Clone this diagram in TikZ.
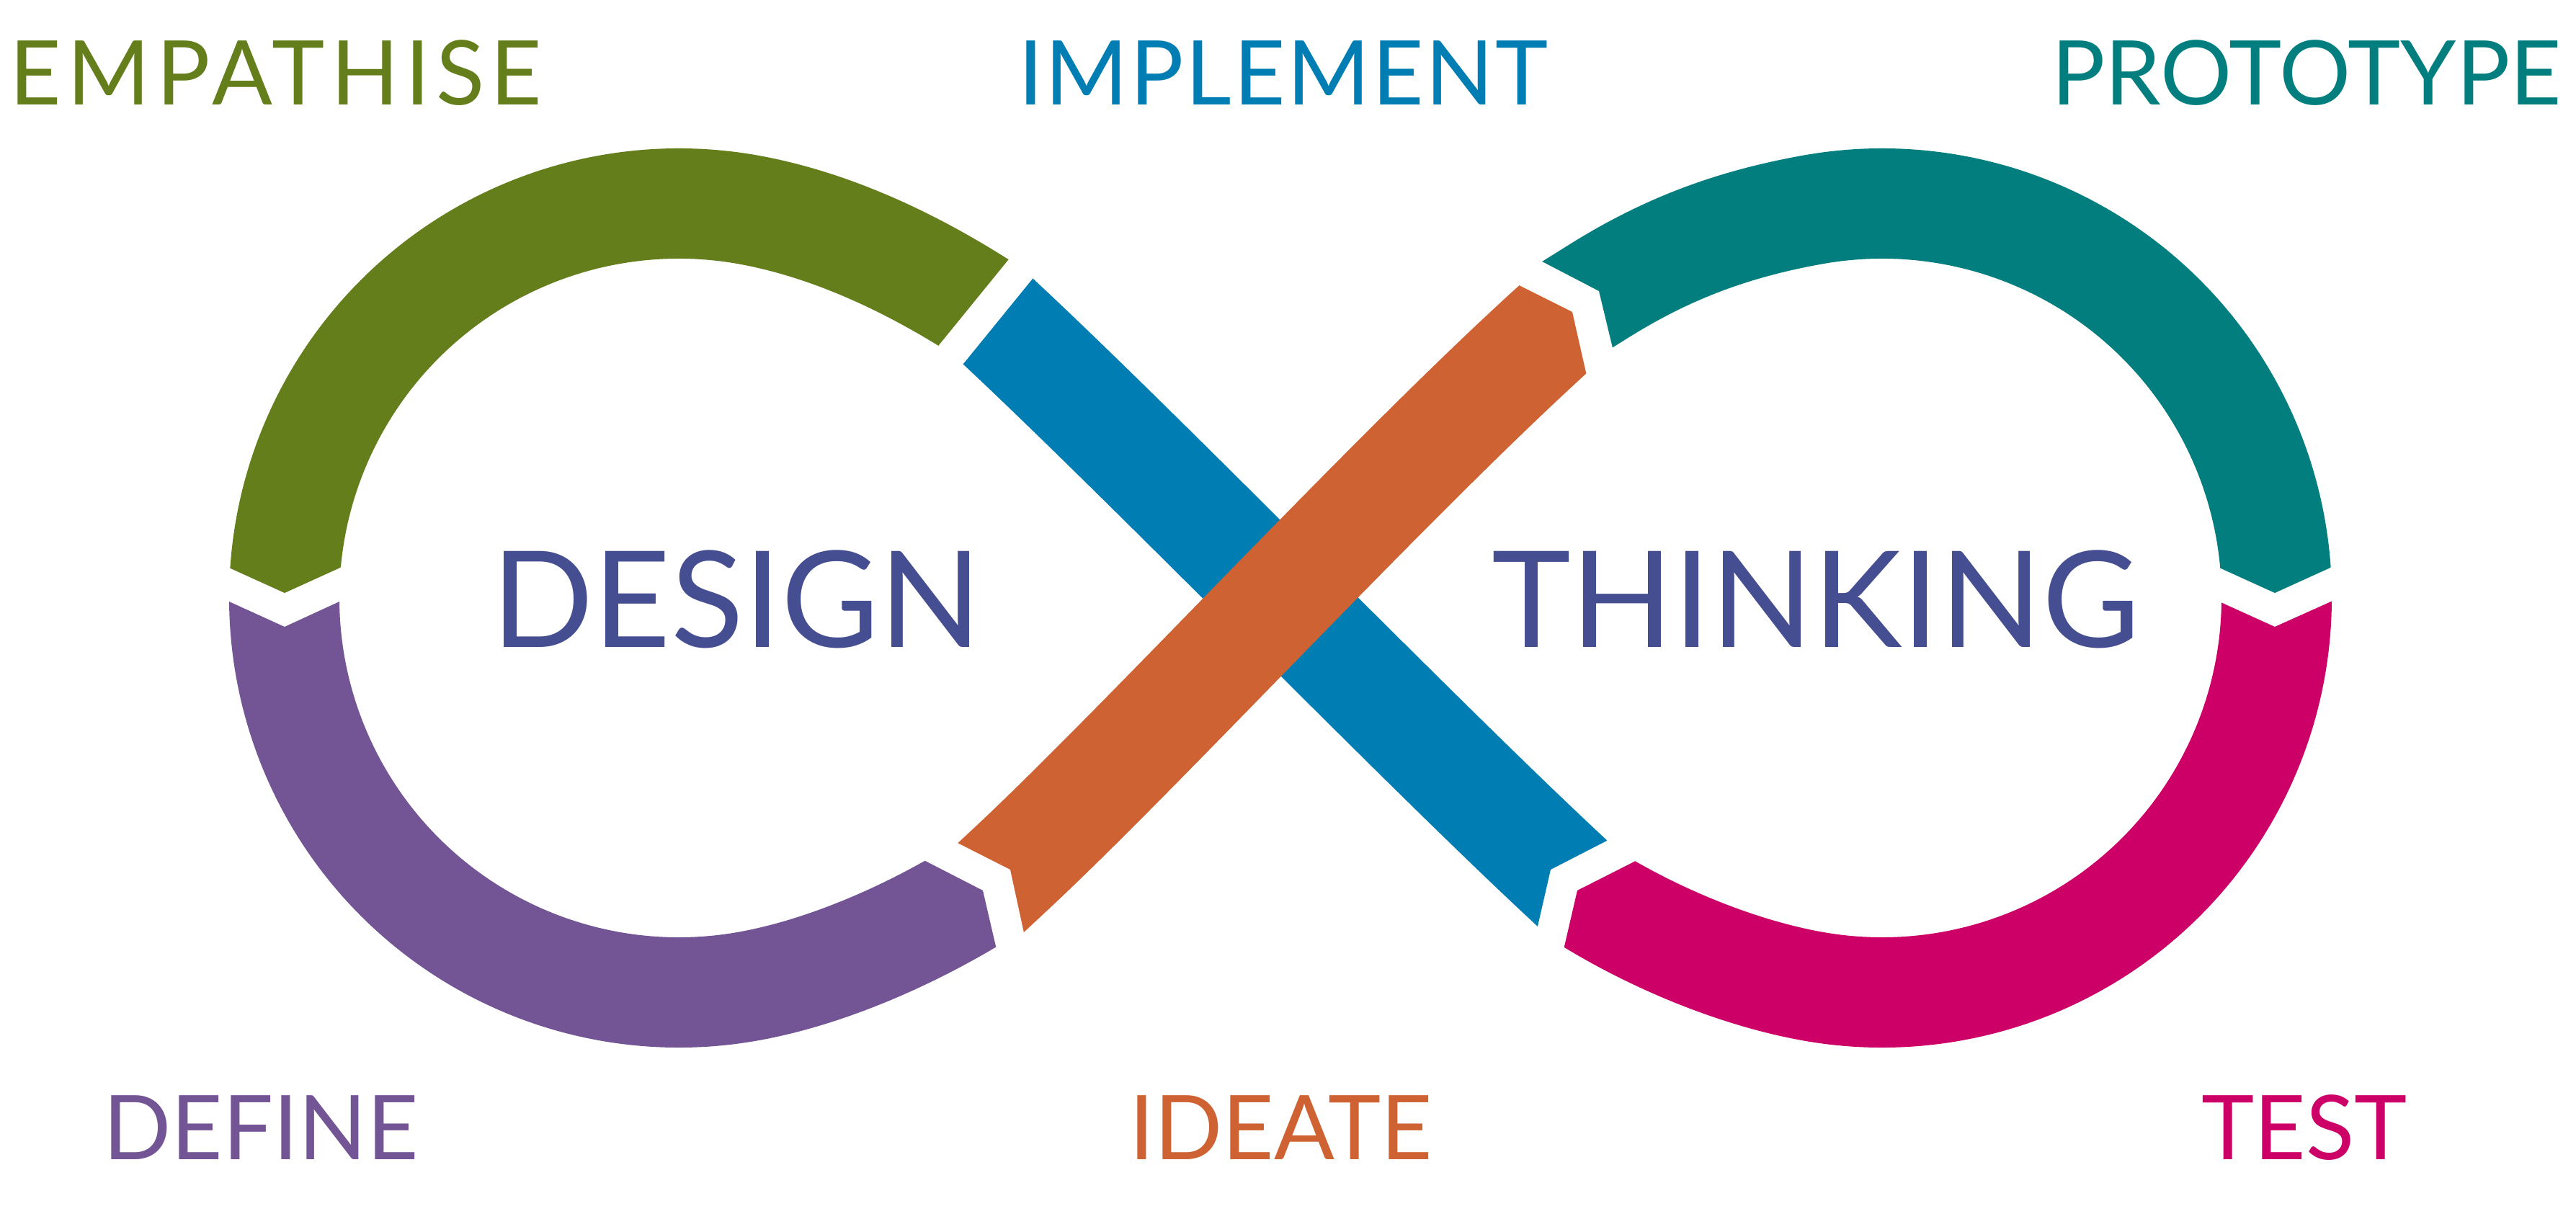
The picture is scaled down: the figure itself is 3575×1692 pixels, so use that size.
\documentclass[tikz,border=0pt]{standalone}
\usepackage{fontspec}
\setmainfont{Lato}
\usepackage{xcolor}
\definecolor{empathise}{RGB}{101,126,28}
\definecolor{define}{RGB}{115,85,150}
\definecolor{ideate}{RGB}{207,98,50}
\definecolor{prototype}{RGB}{2,126,126}
\definecolor{testphase}{RGB}{204,0,102}
\definecolor{implement}{RGB}{0,125,179}
\definecolor{titleblue}{RGB}{70,78,146}

\begin{document}
\begin{tikzpicture}[x=0.2pt,y=0.2pt,yscale=-1,xscale=1,
  band/.style={line width=30.6pt, line cap=butt},
  phase/.style={anchor=base, inner sep=0pt, font=\fontsize{24.8}{30}\selectfont},
  title/.style={anchor=base, inner sep=0pt, text=titleblue, font=\fontsize{37.2}{44}\selectfont}]
\useasboundingbox (0,0) rectangle (3575,1692);

%Band: Empathise (top of left loop)
\begin{scope}
\clip (0,0) -- (0,764) -- (265,764) -- (320,789) -- (395,823) -- (472,788) -- (527,763) -- (1271,518) -- (1303,479) -- (1399,361) -- (1431,322) -- (1431,0) -- cycle;
\draw [band, color=empathise] (397.5,887.2) arc [start angle=174, end angle=280, radius=547.5] .. controls (1148,310.6) and (1255,360) .. (1351,420) -- ++(32:70);
\end{scope}
%Band: Define (bottom of left loop)
\begin{scope}
\clip (0,1692) -- (0,810) -- (263,810) -- (318,835) -- (395,870) -- (471,835) -- (526,810) -- (1243,1174) -- (1288,1197) -- (1364,1236) -- (1383,1318) -- (1394,1367) -- (1394,1692) -- cycle;
\draw [band, color=define] (397.5,772.8) arc [start angle=186, end angle=80, radius=547.5] .. controls (1148,1349.6) and (1268,1296) .. (1364,1236) -- ++(-33:70);
\end{scope}
%Band: Prototype (top of right loop)
\begin{scope}
\clip (3575,0) -- (3575,764) -- (3289,763) -- (3234,788) -- (3157,823) -- (3080,788) -- (3025,763) -- (2251,536) -- (2239,487) -- (2219,404) -- (2146,366) -- (2101,343) -- (2101,0) -- cycle;
\draw [band, color=prototype] (2219,404) ++(148:70) -- (2219,404) .. controls (2315,344) and (2406,310.6) .. (2517,290.8) arc [start angle=260, end angle=366, radius=547.5];
\end{scope}
%Band: Test (bottom of right loop)
\begin{scope}
\clip (3575,1692) -- (3575,810) -- (3290,810) -- (3235,835) -- (3157,870) -- (3082,836) -- (3027,811) -- (2309,1175) -- (2264,1198) -- (2189,1236) -- (2170,1318) -- (2159,1367) -- (2159,1692) -- cycle;
\draw [band, color=testphase] (3156.5,772.8) arc [start angle=354, end angle=460, radius=547.5] .. controls (2406,1349.6) and (2284,1297.5) .. (2189,1236) -- ++(213:70);
\end{scope}
%Band: Implement (crossing, under)
\begin{scope}
\clip (1305,544) -- (1337,505) -- (1433,387) -- (1465,348) -- (2400,348) -- (2400,1146) -- (2271,1146) -- (2226,1169) -- (2152,1207) -- (2133,1290) -- (2122,1339) -- (1250,1339) -- cycle;
\draw [band, color=implement] (1385,446) ++(223:70) -- (1385,446) .. controls (1597,644) and (1957,1016) .. (2169,1214) -- ++(43:70);
\end{scope}
%Band: Ideate (crossing, over)
\begin{scope}
\clip (1282,1146) -- (1327,1169) -- (1402,1207) -- (1420,1290) -- (1431,1339) -- (2400,1339) -- (2400,566) -- (2212,566) -- (2201,517) -- (2182,433) -- (2108,396) -- (2063,374) -- (1250,374) -- (1250,1146) -- cycle;
\draw [band, color=ideate] (1402,1207) ++(137:70) -- (1402,1207) .. controls (1592,1030) and (1952,636.7) .. (2182,433) -- ++(-43:70);
\end{scope}

% Text Node
\node (design) [title] at (1022,898) {DESIGN};
% Text Node
\node (thinking) [title] at (2520,898) {THINKING};
% Text Node
\node (empathise) [phase, text=empathise] at (383,146) {\addfontfeatures{LetterSpace=6.7}EMPATHISE};
% Text Node
\node (implementlabel) [phase, text=implement] at (1781,146) {\addfontfeatures{LetterSpace=2.1}IMPLEMENT};
% Text Node
\node (prototypelabel) [phase, text=prototype] at (3201,146) {PROTOTYPE};
% Text Node
\node (definelabel) [phase, text=define] at (362,1609) {DEFINE};
% Text Node
\node (ideatelabel) [phase, text=ideate] at (1778,1609) {IDEATE};
% Text Node
\node (testlabel) [phase, text=testphase] at (3198,1609) {TEST};

\end{tikzpicture}
\end{document}
